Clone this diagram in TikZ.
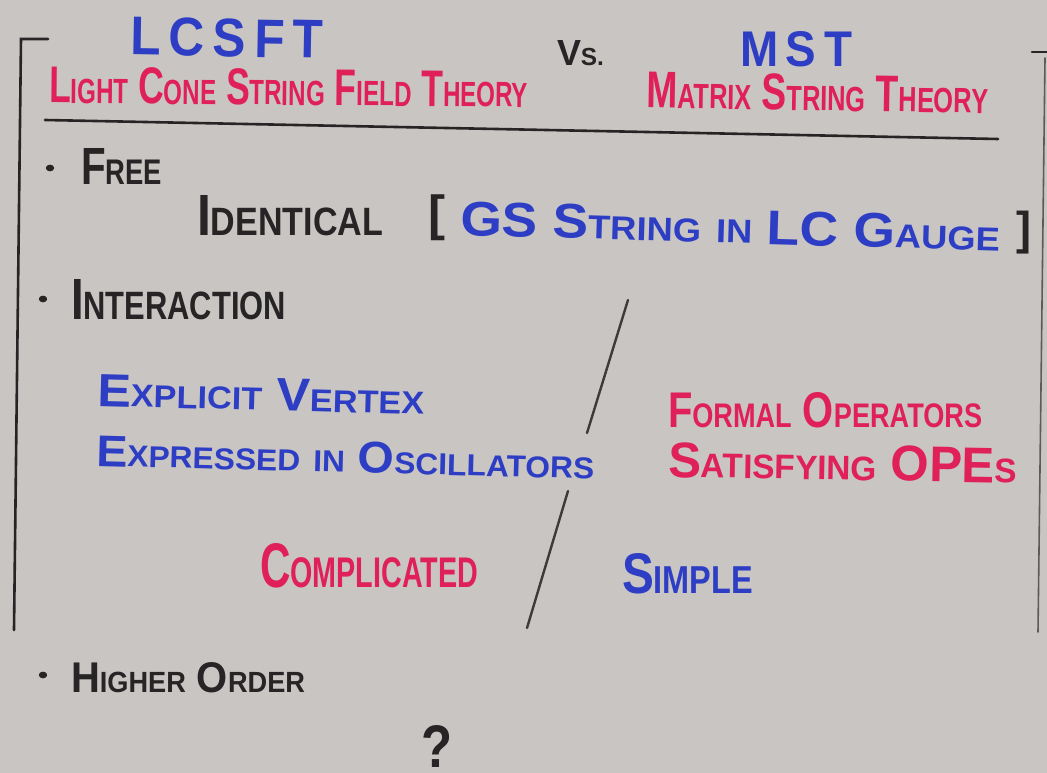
\documentclass[tikz,border=0pt]{standalone}
\usepackage{fontspec}
\setmainfont{Liberation Sans}
\usepackage{graphicx}
\definecolor{board}{RGB}{201,197,195}
\definecolor{inkblue}{RGB}{45,62,196}
\definecolor{inkred}{RGB}{224,32,88}
\definecolor{inkblack}{RGB}{38,36,36}
% fake small capitals: large initial, smaller rest
\newcommand\hsc[2]{#1\scalebox{0.68}{#2}}
% set text into a box of given width and cap height
\newcommand\boxfit[3]{\resizebox{#1pt}{#2pt}{\bfseries #3}}
\begin{document}
\begin{tikzpicture}[x=1pt,y=-1pt,
  lbl/.style={inner sep=0pt, outer sep=0pt, anchor=base west},
  brk/.style={inner sep=0pt, outer sep=0pt, anchor=north west, text=inkblack},
  rule/.style={draw=inkblack, line width=2.6pt, line cap=round},
  slash/.style={draw=inkblack!90, line width=2.4pt, line cap=round},
  dot/.style={fill=inkblack}]
\fill[board] (0,0) rectangle (1047,773);
\useasboundingbox (0,0) rectangle (1047,773);

% frame and rules
\coordinate (ltick) at (48,39);
\coordinate (ltop) at (21,39);
\coordinate (lbot) at (14,630);
\draw[rule] (ltick) -- (ltop) -- (lbot);
\coordinate (rtick) at (1032,52);
\coordinate (rend) at (1047,52);
\draw[rule] (rtick) -- (rend);
\coordinate (rtop) at (1045,58);
\coordinate (rbot) at (1038,632);
\draw[draw=inkblack!75, line width=1.6pt, line cap=round] (rtop) -- (rbot);
\coordinate (ulA) at (45,120);
\coordinate (ulB) at (998,139);
\draw[rule] (ulA) -- (ulB);

% headings
\node[lbl, text=inkblue, rotate=-1] (lcsft) at (130,55) {\boxfit{193}{38}{L\,C\,S\,F\,T}};
\node[lbl, text=inkblack] (vs) at (557,66) {\boxfit{47}{25}{\hsc{V}{S.}}};
\node[lbl, text=inkblue] (mst) at (740,67) {\boxfit{112}{35}{M\,S\,T}};
\node[lbl, text=inkred, rotate=-0.5] (lcsftname) at (49,103)
  {\boxfit{479}{36}{\hsc{L}{IGHT} \hsc{C}{ONE} \hsc{S}{TRING} \hsc{F}{IELD} \hsc{T}{HEORY}}};
\node[lbl, text=inkred, rotate=-0.9] (mstname) at (646,108)
  {\boxfit{342}{36}{\hsc{M}{ATRIX} \hsc{S}{TRING} \hsc{T}{HEORY}}};

% free part
\fill[dot] (50,168) ellipse (4.2pt and 3.4pt) coordinate (b1);
\node[lbl, text=inkblack] (free) at (81,185) {\boxfit{81}{36}{\hsc{F}{REE}}};
\node[lbl, text=inkblack] (ident) at (197,235) {\boxfit{186}{40}{\hsc{I}{DENTICAL}}};
\node[brk] (lbr) at (428,195) {\resizebox*{17pt}{46pt}{\bfseries [}};
\node[lbl, text=inkblue, rotate=-1.7] (gs) at (460,235)
  {\boxfit{540}{34}{GS \hsc{S}{TRING} \scalebox{0.68}{IN} LC \hsc{G}{AUGE}}};
\node[brk] (rbr) at (1016,211) {\resizebox*{15pt}{43pt}{\bfseries ]}};

% interaction part
\fill[dot] (43,299) ellipse (4.2pt and 3.4pt) coordinate (b2);
\node[lbl, text=inkblack] (inter) at (71,319) {\boxfit{215}{40}{\hsc{I}{NTERACTION}}};

\coordinate (s1a) at (628,300);
\coordinate (s1b) at (587,433);
\draw[slash] (s1a) -- (s1b);
\coordinate (s2a) at (568,491);
\coordinate (s2b) at (527,628);
\draw[slash] (s2a) -- (s2b);

\node[lbl, text=inkblue, rotate=-1.5] (explicit) at (97,406)
  {\boxfit{327}{32}{\hsc{E}{XPLICIT} \hsc{V}{ERTEX}}};
\node[lbl, text=inkblue, rotate=-1.5] (expressed) at (96,466)
  {\boxfit{498}{31}{\hsc{E}{XPRESSED} \scalebox{0.68}{IN} \hsc{O}{SCILLATORS}}};
\node[lbl, text=inkred] (formal) at (668,427)
  {\boxfit{314}{35}{\hsc{F}{ORMAL} \hsc{O}{PERATORS}}};
\node[lbl, text=inkred, rotate=-1] (satisfy) at (668,477)
  {\boxfit{349}{35}{\hsc{S}{ATISFYING} OPE\scalebox{0.68}{S}}};
\node[lbl, text=inkred] (compl) at (260,587) {\boxfit{218}{44}{\hsc{C}{OMPLICATED}}};
\node[lbl, text=inkblue] (simple) at (622,593) {\boxfit{131}{40}{\hsc{S}{IMPLE}}};

% higher order
\fill[dot] (43,675) ellipse (4.2pt and 3.4pt) coordinate (b3);
\node[lbl, text=inkblack] (higher) at (71,692) {\boxfit{234}{30}{\hsc{H}{IGHER} \hsc{O}{RDER}}};
\node[lbl, text=inkblack] (quest) at (421,767) {\boxfit{31}{42}{?}};
\end{tikzpicture}
\end{document}
